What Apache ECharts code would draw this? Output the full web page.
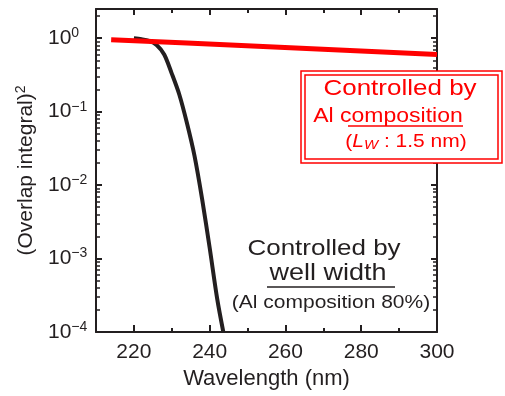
<!DOCTYPE html>
<html>
<head>
<meta charset="utf-8">
<script src="https://cdn.jsdelivr.net/npm/echarts@6/dist/echarts.min.js"></script>
<style>
html, body { margin: 0; padding: 0; background: #fff; }
#chart { width: 505px; height: 396px; }
#err { position: absolute; left: 0; top: 0; font: 10px monospace; color: #00f; white-space: pre-wrap; width: 500px; }
</style>
</head>
<body>
<div id="chart"></div>
<div id="err"></div>
<script>
var errBox = document.getElementById('err');
window.onerror = function (msg) { errBox.textContent += 'ERR: ' + msg + '\n'; };
var oldErr = console.error;
console.error = function () { errBox.textContent += 'CE: ' + Array.prototype.join.call(arguments, ' ') + '\n'; };

// 读图得到的数据
var wellWidthWl = [220, 222, 224, 226, 228, 230, 232, 234, 236, 238, 240, 242, 243.6];
var wellWidthOv = [1.0, 0.97, 0.92, 0.81, 0.6, 0.33, 0.17, 0.07, 0.025, 0.0065, 0.0014, 0.00028, 0.0001];
var alCompWl = [214, 234, 300];
var alCompOv = [0.95, 0.86, 0.6];

// 刻度
var xMin = 210, xMax = 300, yMin = 1e-4, yMax = 2.5;
var xMajorTicks = [220, 240, 260, 280, 300];
var xMinorTicks = [230, 250, 270, 290];
var yMajorTicks = [1e-4, 1e-3, 1e-2, 1e-1, 1];

var ink = '#231f20';
var redColor = '#ff0000';
var fontName = '"Liberation Sans", Arial, sans-serif';

function zip(a, b) {
    return a.map(function (v, i) { return [v, b[i]]; });
}

function xAx(pos, ticks, len, major) {
    return {
        type: 'value', min: xMin, max: xMax, position: pos,
        axisLine: { show: major, lineStyle: { color: ink, width: 2 } },
        axisTick: { show: true, inside: true, length: len, customValues: ticks, lineStyle: { color: ink, width: 2 } },
        axisLabel: { show: false },
        splitLine: { show: false }
    };
}
function yAx(pos) {
    return {
        type: 'log', min: yMin, max: yMax, position: pos,
        axisLine: { show: true, lineStyle: { color: ink, width: 2 } },
        axisTick: { show: true, inside: true, length: 6, lineStyle: { color: ink, width: 2 } },
        minorTick: { show: true, splitNumber: 9, length: 4, lineStyle: { color: ink, width: 1.5 } },
        axisLabel: { show: false },
        splitLine: { show: false }
    };
}

var xMain = xAx('bottom', xMajorTicks, 7, true);
xMain.axisLabel = { show: true, customValues: xMajorTicks, fontSize: 21, color: ink, fontFamily: fontName, margin: 10 };
xMain.name = 'Wavelength (nm)';
xMain.nameLocation = 'middle';
xMain.nameGap = 35;
xMain.nameTextStyle = { fontSize: 22, color: ink, fontFamily: fontName };

var yMain = yAx('left');
yMain.axisLabel = {
    show: true, margin: 48, align: 'left', color: ink, showMaxLabel: false,
    formatter: function (v) {
        var e = Math.round(Math.log10(v));
        return '{b|10}{s|' + (e < 0 ? '\u2212' + (-e) : e) + '}';
    },
    rich: {
        b: { fontSize: 21, color: ink, fontFamily: fontName },
        s: { fontSize: 14, color: ink, fontFamily: fontName, padding: [0, 0, 10, 0] }
    }
};
yMain.name = '{a|(Overlap integral)}{s|2}';
yMain.nameLocation = 'middle';
yMain.nameGap = 55;
yMain.nameTextStyle = {
    rich: {
        a: { fontSize: 21, color: ink, fontFamily: fontName },
        s: { fontSize: 14, color: ink, fontFamily: fontName, padding: [0, 0, 10, 0] }
    }
};

var charts = echarts.init(document.getElementById('chart'));
var option = {
    animation: false,
    grid: { left: 96, right: 68, top: 9, bottom: 64 },
    xAxis: [xMain, xAx('bottom', xMinorTicks, 4, false), xAx('top', xMajorTicks, 6, true), xAx('top', xMinorTicks, 4, false)],
    yAxis: [yMain, yAx('right')],
    series: [
        {
            name: 'well width', type: 'line', smooth: 0.3, showSymbol: false,
            data: zip(wellWidthWl, wellWidthOv),
            lineStyle: { color: ink, width: 4 }
        },
        {
            name: 'Al composition', type: 'line', showSymbol: false,
            data: zip(alCompWl, alCompOv),
            lineStyle: { color: redColor, width: 5 }
        }
    ],
    graphic: [
        // 红框
        { type: 'rect', z: 100, shape: { x: 301, y: 71, width: 201, height: 92 }, style: { fill: '#fff', stroke: redColor, lineWidth: 1.5 } },
        { type: 'rect', z: 101, shape: { x: 305, y: 75, width: 193, height: 84 }, style: { fill: 'none', stroke: redColor, lineWidth: 1.5 } },
        { type: 'text', z: 102, x: 400, y: 89, scaleY: 0.87, style: { text: 'Controlled by', fill: redColor, font: '26px ' + fontName, align: 'center', verticalAlign: 'middle' } },
        { type: 'text', z: 102, x: 388, y: 116, scaleY: 0.9, style: { text: 'Al composition', fill: redColor, font: '23px ' + fontName, align: 'center', verticalAlign: 'middle' } },
        { type: 'line', z: 102, shape: { x1: 348, y1: 126, x2: 463, y2: 126 }, style: { stroke: redColor, lineWidth: 1.5 } },
        {
            type: 'text', z: 102, x: 406, y: 142, scaleY: 0.87,
            style: {
                text: '{n|(}{i|L}{w|W}{n| : 1.5 nm)}', fill: redColor, align: 'center', verticalAlign: 'middle',
                rich: {
                    n: { fontSize: 21, fill: redColor, fontFamily: fontName },
                    i: { fontSize: 21, fill: redColor, fontFamily: fontName, fontStyle: 'italic' },
                    w: { fontSize: 15, fill: redColor, fontFamily: fontName, fontStyle: 'italic', padding: [8, 0, 0, 0] }
                }
            }
        },
        // 黑色注释
        { type: 'text', z: 102, x: 324, y: 249, scaleY: 0.87, style: { text: 'Controlled by', fill: ink, font: '26px ' + fontName, align: 'center', verticalAlign: 'middle' } },
        { type: 'text', z: 102, x: 328, y: 274, scaleY: 0.87, style: { text: 'well width', fill: ink, font: '27px ' + fontName, align: 'center', verticalAlign: 'middle' } },
        { type: 'line', z: 102, shape: { x1: 267, y1: 287, x2: 395, y2: 287 }, style: { stroke: ink, lineWidth: 1.5 } },
        { type: 'text', z: 102, x: 331, y: 303, scaleY: 0.87, style: { text: '(Al composition 80%)', fill: ink, font: '21px ' + fontName, align: 'center', verticalAlign: 'middle' } }
    ]
};
//渲染图表
try {
    charts.setOption(option, true);
} catch (e) {
    errBox.textContent += 'EX: ' + e.message + '\n';
}
</script>
</body>
</html>
